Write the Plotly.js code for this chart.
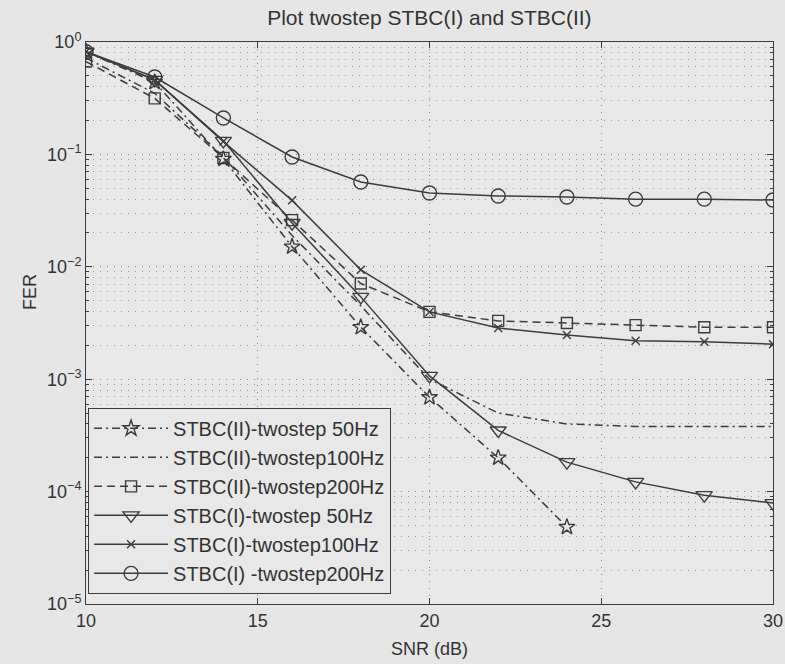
<!DOCTYPE html>
<html>
<head>
<meta charset="utf-8">
<script src="https://cdn.plot.ly/plotly-3.0.1.min.js"></script>
<style>
html,body{margin:0;padding:0;background:#e6e6e6;}
#chart{width:785px;height:664px;}
</style>
</head>
<body>
<div id="chart"></div>
<script>
// ---- data ----
var snr = [10, 12, 14, 16, 18, 20, 22, 24, 26, 28, 30];
var snrII50 = [10, 12, 14, 16, 18, 20, 22, 24];
var fer_II_50  = [0.82, 0.44, 0.091, 0.0151, 0.0029, 0.00069, 0.0002, 0.0000484];
var fer_II_100 = [0.72, 0.35, 0.095, 0.019, 0.0045, 0.001, 0.0005, 0.0004, 0.00038, 0.00038, 0.00038];
var fer_II_200 = [0.67, 0.315, 0.093, 0.026, 0.0071, 0.00397, 0.0033, 0.00316, 0.00303, 0.0029, 0.0029];
var fer_I_50   = [0.82, 0.46, 0.132, 0.0245, 0.0054, 0.00107, 0.00035, 0.000183, 0.000122, 0.000093, 0.000079];
var fer_I_100  = [0.82, 0.46, 0.13, 0.039, 0.0094, 0.00397, 0.00285, 0.00247, 0.0022, 0.00215, 0.00205];
var fer_I_200  = [0.82, 0.488, 0.211, 0.0948, 0.0568, 0.0454, 0.0427, 0.0418, 0.040, 0.040, 0.0393];

var seriesNames = [
  "STBC(II)-twostep 50Hz",
  "STBC(II)-twostep100Hz",
  "STBC(II)-twostep200Hz",
  "STBC(I)-twostep 50Hz",
  "STBC(I)-twostep100Hz",
  "STBC(I) -twostep200Hz"
];

var yTickVals = [1, 0.1, 0.01, 0.001, 0.0001, 0.00001];
var yTickText = ["10<sup>0</sup>", "10<sup>\u22121</sup>", "10<sup>\u22122</sup>", "10<sup>\u22123</sup>", "10<sup>\u22124</sup>", "10<sup>\u22125</sup>"];
var xTickVals = [10, 15, 20, 25, 30];

// minor log positions (2..9 in each decade)
var yMinor = [];
for (var d = 0; d < yTickVals.length - 1; d++) {
  for (var m = 2; m <= 9; m++) yMinor.push(yTickVals[d + 1] * m);
}

var LC = '#3c3c3c';
var FONT = 'Liberation Sans, Arial, sans-serif';

function tr(x, y, name, dash, sym, size) {
  return {
    x: x, y: y, name: name, type: 'scatter',
    mode: sym ? 'lines+markers' : 'lines',
    line: {color: LC, width: 1.5, dash: dash},
    marker: {symbol: sym || 'circle', size: size || 10, color: LC, line: {color: LC, width: 1.4}}
  };
}

var data = [
  tr(snrII50, fer_II_50, seriesNames[0], '8px,4px,2px,4px', 'star-open', 12),
  tr(snr, fer_II_100, seriesNames[1], '8px,4px,2px,4px', null),
  tr(snr, fer_II_200, seriesNames[2], '8px,5px', 'square-open', 11),
  tr(snr, fer_I_50, seriesNames[3], 'solid', 'triangle-down-open', 14),
  tr(snr, fer_I_100, seriesNames[4], 'solid', 'x-thin-open', 8),
  tr(snr, fer_I_200, seriesNames[5], 'solid', 'circle-open', 14)
];

var layout = {
  width: 785, height: 664,
  paper_bgcolor: '#e6e6e6',
  plot_bgcolor: '#e8e8e8',
  margin: {l: 86, r: 12, t: 42, b: 60},
  font: {family: FONT, color: '#333', size: 18},
  showlegend: true,
  title: {
    text: 'Plot twostep STBC(I) and STBC(II)',
    font: {family: FONT, size: 21, color: '#333'},
    x: 0.547, xanchor: 'center', y: 0.974, yanchor: 'middle'
  },
  xaxis: {
    range: [10, 30],
    tickmode: 'array', tickvals: xTickVals,
    ticks: 'inside', ticklen: 6, tickcolor: LC,
    showline: true, linecolor: LC, linewidth: 1, mirror: 'ticks',
    showgrid: true, gridcolor: '#8a8a8a', griddash: '1px,6px', gridwidth: 1,
    zeroline: false,
    tickfont: {size: 18, family: FONT, color: '#333'},
    title: {text: 'SNR (dB)', font: {size: 18, family: FONT, color: '#333'}, standoff: 12}
  },
  yaxis: {
    type: 'log',
    range: [-5, 0],
    tickmode: 'array', tickvals: yTickVals, ticktext: yTickText,
    ticks: 'inside', ticklen: 6, tickcolor: LC,
    showline: true, linecolor: LC, linewidth: 1, mirror: 'ticks',
    showgrid: true, gridcolor: '#8a8a8a', griddash: '1px,6px', gridwidth: 1,
    zeroline: false,
    tickfont: {size: 18, family: FONT, color: '#333'},
    minor: {tickmode: 'array', tickvals: yMinor, ticks: 'inside', ticklen: 3, tickcolor: LC,
            showgrid: true, gridcolor: '#9a9a9a', griddash: '1px,6px', gridwidth: 1}
  },
  legend: {
    x: 0.003, y: 0.349, xanchor: 'left', yanchor: 'top',
    bgcolor: '#e8e8e8', bordercolor: LC, borderwidth: 1,
    font: {size: 20, family: FONT, color: '#333'},
    itemwidth: 74, tracegroupgap: 0
  },
  annotations: [{
    text: 'FER', xref: 'paper', yref: 'paper', x: -0.0815, y: 0.555,
    xanchor: 'center', yanchor: 'middle',
    textangle: -90, showarrow: false, font: {size: 18, family: FONT, color: '#333'}
  }]
};

Plotly.newPlot('chart', data, layout, {displayModeBar: false, staticPlot: true});
</script>
</body>
</html>
